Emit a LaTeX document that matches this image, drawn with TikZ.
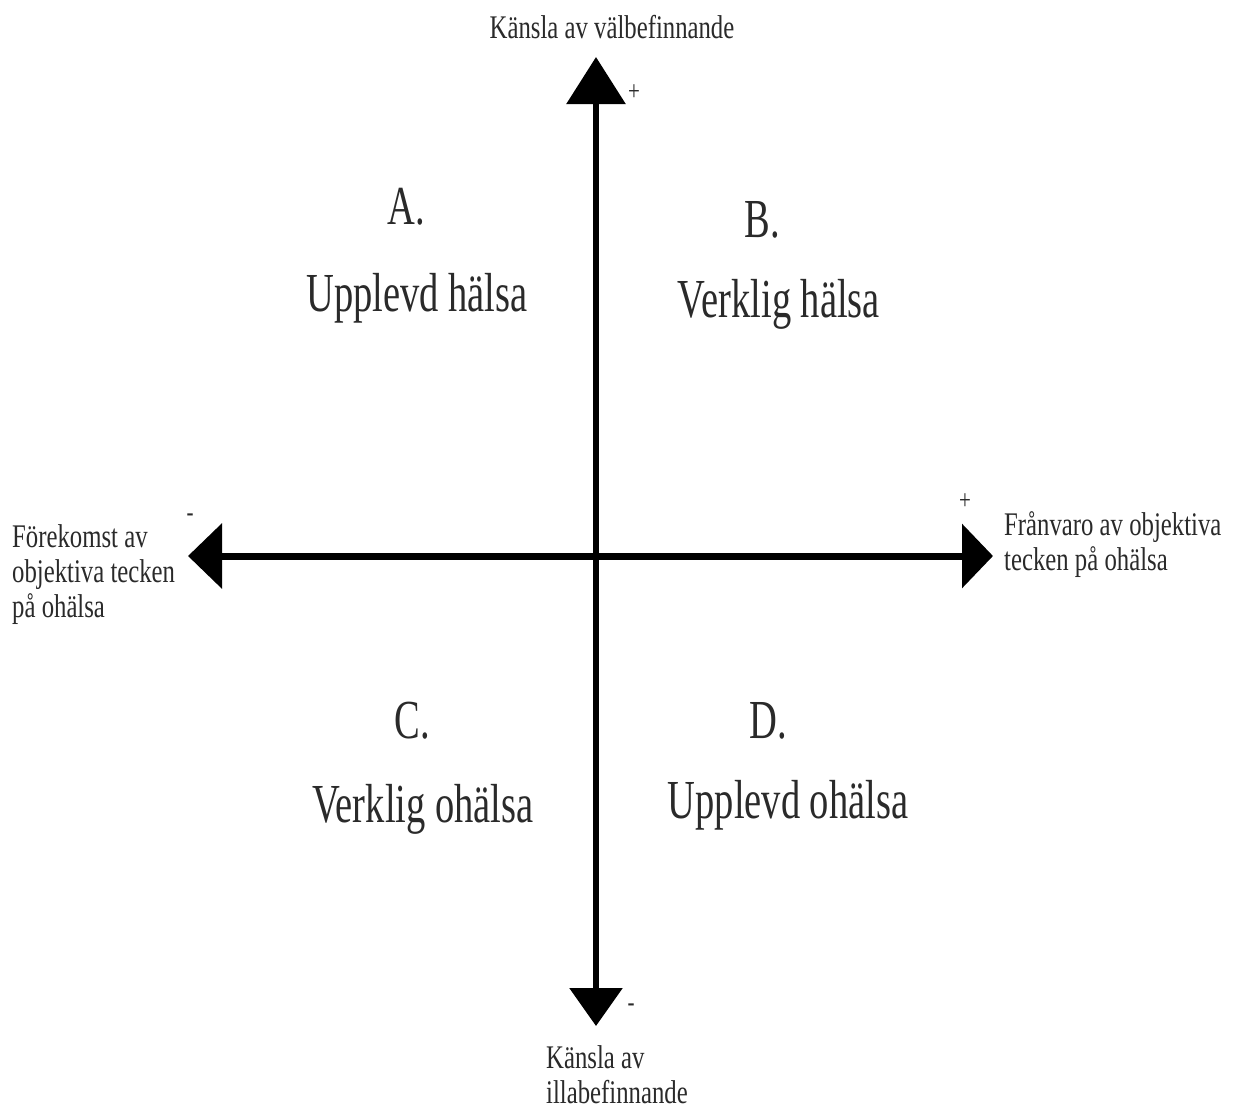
\documentclass[tikz,border=0pt]{standalone}
\usepackage{fontspec}
\setmainfont{Liberation Serif}
\newfontfamily\smallcond[FakeStretch=0.75]{Liberation Serif}
\newfontfamily\bigcond[FakeStretch=0.70]{Liberation Serif}
\usetikzlibrary{arrows.meta}
\definecolor{txt}{HTML}{2A2A2A}
\begin{document}
\begin{tikzpicture}[x=1pt,y=-1pt,
  smalllab/.style={text=txt,font=\smallcond\fontsize{33}{35}\selectfont,inner sep=0pt,align=left},
  biglab/.style={text=txt,font=\bigcond\fontsize{55}{60}\selectfont,inner sep=0pt,anchor=base},
  signlab/.style={text=txt,font=\smallcond\fontsize{28}{30}\selectfont,inner sep=0pt},
  axisline/.style={line width=6pt,black}]
\useasboundingbox (0,0) rectangle (1235,1112);
\fill[white] (0,0) rectangle (1235,1112);
% axis end points
\coordinate (top) at (596,57);
\coordinate (bottom) at (596,1026);
\coordinate (left) at (188,556);
\coordinate (right) at (993,556);
\draw[axisline,{Triangle[width=52pt,length=38pt]}-{Triangle[width=58pt,length=47pt]}] (bottom) -- (top);
\draw[line width=7pt,black,{Triangle[width=64pt,length=34pt]}-{Triangle[width=63pt,length=31pt]}] (left) -- (right);
% axis labels (base = baseline of last line)
\node[smalllab,anchor=base] (toplab) at (612,38) {Känsla av välbefinnande};
\node[smalllab,anchor=base west] (leftlab) at (12,617) {Förekomst av\\objektiva tecken\\på ohälsa};
\node[smalllab,anchor=base west] (rightlab) at (1004,570) {Frånvaro av objektiva\\tecken på ohälsa};
\node[smalllab,anchor=base west] (bottomlab) at (546,1103) {Känsla av\\illabefinnande};
% signs
\node[signlab,anchor=base] (plustop) at (634,100) {+};
\node[signlab,anchor=base] (minusleft) at (190,521) {-};
\node[signlab,anchor=base] (plusright) at (965,509) {+};
\node[signlab,anchor=base] (minusbottom) at (631,1011) {-};
% quadrant labels
\node[biglab] (A) at (406,224) {A.};
\node[biglab] (Atxt) at (417,311) {Upplevd hälsa};
\node[biglab] (B) at (762,237) {B.};
\node[biglab] (Btxt) at (779,317) {Verklig hälsa};
\node[biglab] (C) at (412,738) {C.};
\node[biglab] (Ctxt) at (423,822) {Verklig ohälsa};
\node[biglab] (D) at (768,738) {D.};
\node[biglab] (Dtxt) at (788,818) {Upplevd ohälsa};
\end{tikzpicture}
\end{document}
